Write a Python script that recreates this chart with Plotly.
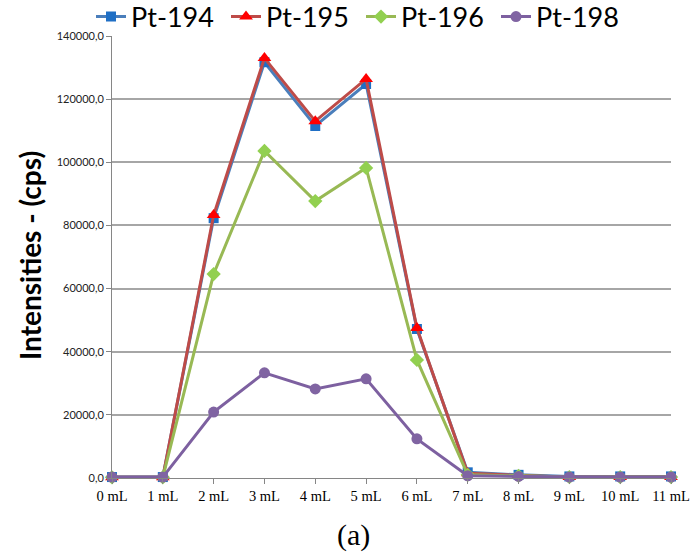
import plotly.graph_objects as go

categories = ["0 mL", "1 mL", "2 mL", "3 mL", "4 mL", "5 mL", "6 mL", "7 mL", "8 mL", "9 mL", "10 mL", "11 mL"]
pt194 = [300, 300, 82300, 131700, 111500, 124800, 47200, 1800, 1000, 500, 500, 500]
pt195 = [200, 200, 83300, 133000, 113000, 126400, 47500, 1500, 800, 300, 300, 300]
pt196 = [200, 200, 64600, 103600, 87700, 98200, 37400, 1000, 700, 300, 300, 300]
pt198 = [300, 300, 20900, 33300, 28200, 31400, 12400, 700, 500, 300, 300, 300]
ytick_vals = [0, 20000, 40000, 60000, 80000, 100000, 120000, 140000]
ytick_text = ["0,0", "20000,0", "40000,0", "60000,0", "80000,0", "100000,0", "120000,0", "140000,0"]

series = [
    ("Pt-194", pt194, "#4a7ebb", "square", "#1f6fc5", 10),
    ("Pt-195", pt195, "#be4b48", "triangle-up", "#ff0000", 12),
    ("Pt-196", pt196, "#98b954", "diamond", "#92d050", 11),
    ("Pt-198", pt198, "#7d60a0", "circle", "#8064a2", 11),
]

fig = go.Figure()
for name, vals, lc, sym, mc, ms in series:
    fig.add_trace(go.Scatter(
        x=categories, y=vals, name=name, mode="lines+markers",
        line=dict(color=lc, width=3),
        marker=dict(symbol=sym, color=mc, size=ms, line=dict(width=0)),
        cliponaxis=False,
    ))

L, T, B, R = 112, 36, 478, 671
W, H = R - L, B - T

fig.update_layout(
    width=691, height=554,
    margin=dict(l=L, r=691 - R, t=T, b=554 - B, autoexpand=False),
    paper_bgcolor="white", plot_bgcolor="white",
    showlegend=True,
    legend=dict(orientation="h", x=(91 - L) / W, xanchor="left", y=(B - 17) / H, yanchor="middle",
                font=dict(family="Lato, Open Sans, sans-serif", size=27, color="black"),
                itemwidth=30, tracegroupgap=0, bgcolor="rgba(0,0,0,0)",
                entrywidth=90, entrywidthmode="pixels"),
    xaxis=dict(type="category", range=[0, 11], showgrid=False,
               showline=True, linecolor="#868686", linewidth=1,
               ticks="outside", tickcolor="#868686", ticklen=5,
               tickfont=dict(family="Liberation Serif, Times New Roman, serif", size=14.5, color="black"),
               zeroline=False),
    yaxis=dict(range=[0, 140000], tickvals=ytick_vals, ticktext=ytick_text,
               showgrid=True, gridcolor="#a6a6a6", gridwidth=1.5,
               showline=True, linecolor="#868686", linewidth=1,
               ticks="outside", tickcolor="#868686", ticklen=5,
               tickfont=dict(family="Lato, Open Sans, sans-serif", size=11, color="#222"),
               zeroline=False),
    annotations=[
        dict(text="<b>Intensities - (cps)</b>", xref="paper", yref="paper",
             x=(30 - L) / W, y=(B - 256) / H, xanchor="center", yanchor="middle",
             textangle=-90, showarrow=False,
             font=dict(family="Lato, Open Sans, sans-serif", size=28, color="black")),
        dict(text="(a)", xref="paper", yref="paper",
             x=(353.5 - L) / W, y=(B - 535) / H, xanchor="center", yanchor="middle",
             showarrow=False,
             font=dict(family="Liberation Serif, Times New Roman, serif", size=30, color="black")),
    ],
)

fig.write_html("out.html", config={"displayModeBar": False},
               post_script="document.body.style.margin='0';document.body.style.overflow='hidden';")
